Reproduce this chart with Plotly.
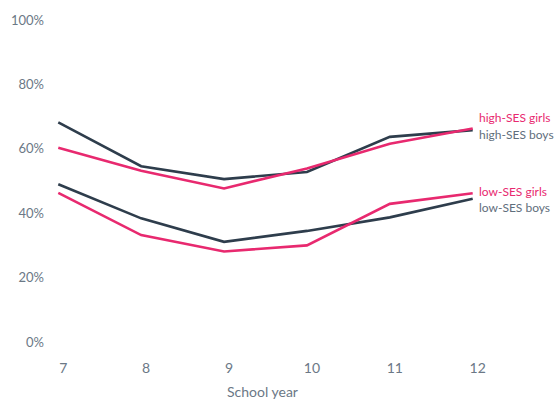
import plotly.graph_objects as go

years = [7, 8, 9, 10, 11, 12]
high_boys = [68.2, 54.6, 50.6, 52.8, 63.7, 65.8]
high_girls = [60.3, 53.2, 47.7, 53.9, 61.6, 66.3]
low_boys = [49.0, 38.4, 31.1, 34.5, 38.7, 44.5]
low_girls = [46.3, 33.2, 28.1, 30.0, 42.9, 46.2]
y_ticks = [0, 20, 40, 60, 80, 100]
y_tick_labels = ["0%", "20%", "40%", "60%", "80%", "100%"]
x_title = "School year"

PINK = "#E8296F"
DARK = "#2E3D4C"
GREY = "#5F6E7C"

series = [
    ("high-SES boys", high_boys, DARK),
    ("low-SES boys", low_boys, DARK),
    ("high-SES girls", high_girls, PINK),
    ("low-SES girls", low_girls, PINK),
]

fig = go.Figure()
for name, vals, col in series:
    fig.add_trace(go.Scatter(x=years, y=vals, mode="lines", name=name,
                             line=dict(color=col, width=2.6), cliponaxis=False))

label_pos = {"high-SES girls": (high_girls[-1], 11.5, PINK),
             "high-SES boys": (high_boys[-1], -4, GREY),
             "low-SES girls": (low_girls[-1], 2, PINK),
             "low-SES boys": (low_boys[-1], -8.5, GREY)}
for name, (yv, ys, col) in label_pos.items():
    fig.add_annotation(x=years[-1], y=yv, text=name, showarrow=False,
                       xanchor="left", yanchor="middle", xshift=4, yshift=ys,
                       font=dict(color=col, size=12))

fig.add_annotation(x=(years[0] + years[-1]) / 2, y=0, xref="x", yref="paper",
                   text=x_title, showarrow=False, xanchor="center", yanchor="middle",
                   xshift=-3, yshift=-49, font=dict(size=14))

fig.update_layout(
    width=554, height=400,
    margin=dict(l=50, r=60, t=20, b=58),
    paper_bgcolor="white", plot_bgcolor="white",
    showlegend=False,
    font=dict(family="Lato", color="#6B7886", size=13),
)
fig.update_xaxes(range=[6.9, 12.257], tickvals=years, showgrid=False, zeroline=False,
                 showline=False, ticks="", ticklabelstandoff=16, ticklabelshift=5,
                 tickfont=dict(size=14))
fig.update_yaxes(range=[0, 100], tickvals=y_ticks, ticktext=y_tick_labels,
                 showgrid=False, zeroline=False, showline=False, ticks="",
                 ticklabelstandoff=5)

fig.write_html("out.html", config={"displayModeBar": False},
               post_script="document.body.style.margin='0px';")
